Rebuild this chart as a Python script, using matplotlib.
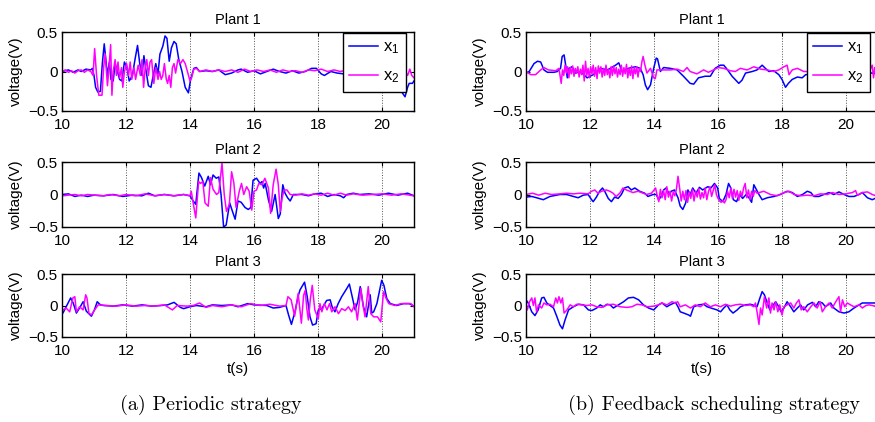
import matplotlib
matplotlib.use('Agg')
import matplotlib.pyplot as plt

plt.rcParams['font.family'] = ['Liberation Sans', 'DejaVu Sans']
plt.rcParams['mathtext.fontset'] = 'custom'
plt.rcParams['mathtext.rm'] = 'Liberation Sans'
plt.rcParams['mathtext.it'] = 'Liberation Sans'
plt.rcParams['mathtext.default'] = 'regular'

# ---- data: (time s, voltage V) ----
# (a) periodic strategy
per1_x1 = [(10.0, 0.0), (10.2, 0.02), (10.35, -0.01), (10.5, 0.02), (10.6, 0.0), (10.75, 0.03), (10.9, 0.02),
           (10.95, 0.04), (11.0, -0.05), (11.05, -0.2), (11.12, -0.26), (11.2, -0.25), (11.26, 0.1), (11.32, 0.35),
           (11.37, 0.15), (11.42, -0.05), (11.48, 0.12), (11.53, -0.1), (11.6, -0.12), (11.66, 0.1), (11.72, 0.02),
           (11.8, -0.1), (11.87, -0.12), (11.95, 0.12), (12.03, 0.05), (12.1, -0.12), (12.2, -0.05), (12.28, 0.15),
           (12.36, 0.33), (12.43, 0.1), (12.5, -0.05), (12.56, 0.2), (12.63, 0.0), (12.7, -0.18), (12.78, -0.2),
           (12.85, -0.05), (12.93, 0.1), (13.0, -0.03), (13.06, 0.22), (13.15, 0.32), (13.22, 0.45), (13.28, 0.42),
           (13.35, 0.13), (13.42, 0.3), (13.5, 0.38), (13.57, 0.35), (13.65, 0.15), (13.75, 0.0), (13.85, -0.2),
           (13.95, -0.27), (14.02, -0.1), (14.12, 0.04), (14.2, 0.05), (14.3, 0.0), (14.5, 0.01), (14.7, 0.0),
           (14.9, 0.02), (15.1, -0.04), (15.3, -0.02), (15.5, 0.02), (15.6, 0.03), (15.8, -0.01), (16.0, 0.01),
           (16.2, -0.03), (16.4, 0.0), (16.6, 0.03), (16.8, 0.0), (17.0, -0.02), (17.2, 0.01), (17.4, -0.02),
           (17.6, 0.0), (17.8, 0.04), (17.95, 0.04), (18.1, -0.03), (18.2, -0.05), (18.4, 0.0), (18.6, -0.02),
           (18.8, -0.03), (19.0, -0.02), (19.3, 0.0), (19.6, 0.01), (19.9, -0.02), (20.2, -0.05), (20.45, -0.12),
           (20.6, -0.25), (20.72, -0.32), (20.8, -0.2), (20.85, -0.15), (20.95, -0.15), (21.0, -0.12)]
per1_x2 = [(10.0, 0.0), (10.1, 0.02), (10.2, -0.01), (10.3, 0.01), (10.4, -0.02), (10.5, 0.01), (10.6, 0.02),
           (10.7, -0.01), (10.8, 0.02), (10.9, 0.0), (10.97, -0.05), (11.02, 0.29), (11.08, -0.05), (11.15, -0.3),
           (11.25, -0.3), (11.3, 0.05), (11.35, 0.22), (11.42, -0.18), (11.47, 0.05), (11.52, 0.34), (11.56, -0.3),
           (11.6, 0.0), (11.66, 0.15), (11.7, -0.05), (11.75, 0.12), (11.8, -0.08), (11.86, 0.05), (11.9, -0.2),
           (11.95, 0.0), (12.02, 0.1), (12.08, -0.05), (12.13, 0.12), (12.18, -0.1), (12.25, 0.05), (12.3, -0.1),
           (12.38, 0.08), (12.45, -0.05), (12.5, 0.15), (12.55, -0.2), (12.6, 0.05), (12.65, 0.15), (12.7, -0.05),
           (12.75, 0.12), (12.8, 0.15), (12.87, -0.15), (12.93, 0.05), (13.0, -0.1), (13.05, 0.0), (13.1, -0.1),
           (13.15, -0.05), (13.2, 0.1), (13.26, -0.1), (13.3, -0.15), (13.35, -0.05), (13.4, -0.2), (13.45, 0.05),
           (13.5, 0.1), (13.55, -0.02), (13.62, 0.15), (13.7, 0.1), (13.78, 0.15), (13.85, 0.1), (13.92, 0.0),
           (14.0, -0.12), (14.05, -0.08), (14.12, 0.03), (14.2, 0.04), (14.3, 0.0), (14.5, 0.02), (14.7, 0.0),
           (14.9, 0.02), (15.1, 0.0), (15.3, 0.02), (15.5, -0.01), (15.7, 0.03), (15.9, 0.0), (16.1, 0.02),
           (16.3, 0.0), (16.5, 0.02), (16.7, -0.01), (16.9, 0.02), (17.1, 0.0), (17.3, 0.01), (17.5, -0.01),
           (17.7, 0.02), (17.9, 0.01), (18.1, 0.03), (18.3, 0.0), (18.5, 0.02), (18.7, 0.0), (18.9, 0.02),
           (19.2, 0.0), (19.5, 0.01), (19.8, 0.0), (20.1, 0.01), (20.4, 0.0), (20.7, 0.02), (20.8, -0.05),
           (20.87, 0.03), (20.93, -0.05), (21.0, -0.08)]
per2_x1 = [(10.0, 0.0), (10.2, 0.01), (10.4, -0.03), (10.6, -0.01), (10.8, -0.03), (11.0, -0.01), (11.3, -0.02),
           (11.6, 0.0), (11.9, -0.03), (12.2, -0.01), (12.5, -0.02), (12.7, 0.02), (12.9, -0.02), (13.2, 0.0),
           (13.5, -0.02), (13.8, 0.0), (14.0, -0.02), (14.1, -0.1), (14.18, -0.15), (14.28, 0.33), (14.36, 0.26),
           (14.46, 0.13), (14.57, 0.28), (14.64, 0.15), (14.72, 0.3), (14.82, 0.25), (14.9, 0.27), (14.97, 0.0),
           (15.05, -0.5), (15.13, -0.47), (15.24, -0.13), (15.32, -0.25), (15.41, -0.38), (15.5, -0.1),
           (15.6, -0.12), (15.72, -0.2), (15.82, -0.23), (15.9, -0.2), (15.97, 0.22), (16.08, 0.25), (16.19, 0.17),
           (16.25, 0.2), (16.3, 0.1), (16.35, 0.17), (16.45, -0.08), (16.55, -0.26), (16.66, 0.0), (16.76, -0.37),
           (16.82, -0.3), (16.9, 0.15), (16.97, 0.02), (17.05, -0.05), (17.13, -0.1), (17.23, 0.0), (17.5, 0.0),
           (17.7, -0.02), (17.9, 0.01), (18.1, 0.02), (18.3, -0.03), (18.5, 0.0), (18.7, -0.02), (18.8, -0.05),
           (18.9, 0.0), (19.1, 0.02), (19.3, 0.0), (19.6, 0.01), (19.9, -0.01), (20.2, 0.02), (20.5, -0.01),
           (20.8, 0.02), (21.0, -0.02)]
per2_x2 = [(10.0, -0.02), (10.2, -0.01), (10.4, 0.0), (10.6, -0.02), (10.8, 0.0), (11.0, -0.01), (11.3, -0.02),
           (11.5, 0.0), (11.8, -0.02), (12.0, 0.0), (12.3, -0.02), (12.6, 0.01), (12.9, -0.02), (13.2, 0.0),
           (13.5, -0.02), (13.8, 0.0), (14.0, -0.02), (14.04, 0.05), (14.1, -0.13), (14.18, -0.36), (14.27, 0.2),
           (14.33, 0.17), (14.4, 0.2), (14.47, -0.13), (14.57, -0.18), (14.64, 0.26), (14.72, 0.08), (14.83, 0.0),
           (14.9, 0.03), (15.0, 0.48), (15.07, 0.0), (15.14, -0.26), (15.23, -0.15), (15.3, 0.35), (15.37, 0.18),
           (15.44, -0.2), (15.54, 0.05), (15.61, 0.17), (15.68, 0.0), (15.77, 0.12), (15.85, 0.05), (15.93, -0.24),
           (16.0, 0.05), (16.08, 0.07), (16.15, 0.17), (16.25, 0.15), (16.34, 0.25), (16.45, 0.1), (16.52, -0.29),
           (16.6, 0.15), (16.69, 0.39), (16.76, 0.15), (16.82, -0.26), (16.88, -0.05), (16.94, 0.07), (17.03, 0.07),
           (17.13, 0.0), (17.3, -0.01), (17.5, 0.01), (17.7, -0.01), (17.9, 0.01), (18.1, -0.01), (18.3, 0.02),
           (18.5, -0.01), (18.7, 0.02), (18.9, -0.01), (19.1, 0.01), (19.4, -0.01), (19.7, 0.0), (20.0, 0.01),
           (20.3, -0.01), (20.6, 0.01), (21.0, -0.02)]
per3_x1 = [(10.0, -0.1), (10.03, -0.12), (10.15, 0.0), (10.27, 0.12), (10.35, 0.04), (10.45, -0.12), (10.55, -0.04),
           (10.66, 0.06), (10.76, -0.09), (10.92, -0.17), (11.02, -0.06), (11.1, 0.06), (11.2, 0.01), (11.3, 0.0),
           (11.6, -0.01), (11.9, 0.01), (12.2, -0.01), (12.5, 0.01), (12.8, -0.01), (13.1, 0.0), (13.3, 0.01),
           (13.5, 0.05), (13.7, -0.03), (13.8, -0.05), (14.0, -0.02), (14.2, 0.0), (14.5, -0.02), (14.7, 0.01),
           (15.0, 0.0), (15.3, 0.01), (15.5, -0.02), (15.8, 0.03), (16.0, 0.01), (16.4, 0.0), (16.6, -0.04),
           (16.8, -0.03), (17.0, 0.0), (17.08, -0.15), (17.17, -0.3), (17.28, -0.1), (17.38, 0.15), (17.44, 0.25),
           (17.58, 0.37), (17.66, 0.15), (17.75, -0.18), (17.83, -0.31), (17.94, -0.29), (18.01, -0.07),
           (18.12, -0.05), (18.27, 0.08), (18.38, 0.09), (18.44, -0.02), (18.53, -0.1), (18.63, 0.03), (18.74, 0.14),
           (18.9, 0.27), (18.98, 0.34), (19.06, 0.16), (19.16, -0.07), (19.24, 0.06), (19.32, 0.3), (19.42, -0.02),
           (19.52, -0.18), (19.63, 0.17), (19.68, -0.12), (19.74, -0.1), (19.84, 0.03), (19.99, 0.4), (20.06, 0.32),
           (20.15, 0.11), (20.26, 0.03), (20.46, 0.0), (20.67, 0.03), (20.85, 0.03), (21.0, -0.01)]
per3_x2 = [(10.0, -0.07), (10.03, -0.07), (10.13, -0.04), (10.24, -0.1), (10.34, 0.12), (10.4, 0.14), (10.45, -0.1),
           (10.55, -0.02), (10.66, -0.07), (10.74, 0.17), (10.78, 0.12), (10.84, -0.12), (10.92, -0.15),
           (11.02, -0.07), (11.13, 0.01), (11.4, 0.0), (11.7, -0.01), (12.0, 0.01), (12.3, -0.01), (12.6, 0.0),
           (12.9, -0.01), (13.2, 0.01), (13.45, -0.07), (13.6, 0.0), (13.9, -0.01), (14.1, 0.0), (14.3, 0.04),
           (14.5, -0.03), (14.7, 0.0), (15.0, -0.02), (15.3, 0.01), (15.6, -0.02), (15.9, 0.03), (16.2, 0.0),
           (16.5, 0.02), (16.8, -0.01), (17.0, 0.0), (17.06, 0.14), (17.16, 0.09), (17.27, -0.17), (17.38, 0.19),
           (17.48, -0.28), (17.55, 0.16), (17.6, 0.24), (17.65, -0.05), (17.7, -0.23), (17.76, 0.1), (17.82, 0.32),
           (17.9, -0.07), (18.01, -0.21), (18.06, 0.03), (18.12, -0.1), (18.2, 0.03), (18.28, -0.07), (18.36, 0.03),
           (18.43, -0.1), (18.53, -0.02), (18.64, -0.13), (18.74, -0.05), (18.85, -0.08), (18.95, -0.02),
           (19.05, -0.1), (19.16, 0.03), (19.23, -0.23), (19.34, 0.27), (19.4, 0.03), (19.47, -0.18), (19.57, 0.3),
           (19.65, -0.13), (19.74, -0.18), (19.86, -0.18), (19.96, -0.26), (20.05, 0.22), (20.13, 0.11),
           (20.21, 0.03), (20.4, 0.0), (20.6, 0.03), (20.9, 0.03), (21.0, -0.02)]

# (b) feedback scheduling strategy
fb1_x1 = [(10.0, -0.02), (10.1, 0.0), (10.25, 0.1), (10.36, 0.13), (10.46, 0.12), (10.56, 0.02), (10.67, -0.01),
          (10.87, -0.01), (10.98, 0.0), (11.08, 0.04), (11.13, 0.19), (11.19, 0.21), (11.24, 0.08), (11.29, -0.08),
          (11.34, 0.04), (11.44, 0.06), (11.55, -0.02), (11.7, 0.0), (11.91, -0.08), (12.1, -0.04), (12.33, 0.04),
          (12.55, 0.02), (12.8, 0.08), (12.9, 0.11), (13.0, 0.0), (13.2, 0.04), (13.42, 0.06), (13.57, 0.04),
          (13.66, -0.04), (13.73, -0.17), (13.8, -0.23), (13.89, -0.17), (13.99, 0.04), (14.07, 0.17), (14.11, 0.16),
          (14.2, 0.0), (14.3, 0.05), (14.51, 0.04), (14.72, 0.02), (14.92, -0.06), (15.13, -0.15), (15.24, -0.16),
          (15.39, -0.08), (15.6, -0.06), (15.76, -0.06), (15.91, 0.04), (16.07, 0.08), (16.18, 0.08), (16.3, 0.02),
          (16.44, -0.06), (16.65, -0.15), (16.75, -0.11), (16.86, -0.02), (17.07, 0.0), (17.22, 0.02),
          (17.38, 0.08), (17.48, 0.04), (17.59, 0.0), (17.74, 0.01), (17.9, -0.04), (18.0, -0.1), (18.11, -0.2),
          (18.2, -0.15), (18.32, -0.1), (18.48, -0.07), (18.63, -0.08), (18.74, -0.04), (19.0, -0.03),
          (19.5, 0.0), (20.0, -0.02), (20.5, 0.01), (20.8, -0.02), (21.0, -0.03)]
fb1_x2 = [(10.0, 0.0), (10.15, -0.04), (10.3, -0.04), (10.46, 0.02), (10.56, 0.05), (10.7, 0.02), (10.93, 0.01),
          (11.03, 0.04), (11.1, -0.15), (11.14, 0.02), (11.18, -0.05), (11.22, 0.08), (11.26, -0.02), (11.3, 0.06),
          (11.34, -0.08), (11.38, 0.05), (11.42, -0.03), (11.46, 0.07), (11.5, -0.06), (11.54, 0.04),
          (11.58, -0.02), (11.62, 0.06), (11.66, -0.07), (11.7, 0.03), (11.74, -0.04), (11.78, 0.08),
          (11.82, -0.12), (11.86, 0.13), (11.9, -0.05), (11.94, 0.04), (11.98, -0.08), (12.02, 0.06),
          (12.06, -0.03), (12.1, 0.08), (12.14, -0.06), (12.18, 0.05), (12.22, -0.09), (12.26, 0.07),
          (12.3, -0.02), (12.34, 0.06), (12.38, -0.07), (12.42, 0.04), (12.46, -0.05), (12.5, 0.08),
          (12.54, -0.04), (12.58, 0.03), (12.62, -0.08), (12.66, 0.06), (12.7, -0.05), (12.74, 0.07),
          (12.78, -0.03), (12.82, 0.05), (12.86, -0.07), (12.9, 0.03), (12.94, -0.04), (12.98, 0.08),
          (13.02, -0.06), (13.06, 0.05), (13.1, -0.03), (13.14, 0.09), (13.18, -0.08), (13.22, 0.04),
          (13.26, -0.05), (13.3, 0.07), (13.34, -0.09), (13.38, 0.05), (13.42, -0.03), (13.46, 0.06),
          (13.5, -0.07), (13.54, 0.04), (13.58, 0.0), (13.62, 0.12), (13.66, 0.19), (13.71, 0.09), (13.78, -0.02),
          (13.89, 0.04), (13.99, -0.08), (14.04, -0.09), (14.09, 0.02), (14.3, 0.02), (14.51, 0.02), (14.72, 0.03),
          (14.92, 0.0), (15.03, 0.05), (15.13, 0.0), (15.34, -0.03), (15.55, 0.02), (15.7, -0.01), (15.86, 0.02),
          (16.01, 0.05), (16.18, 0.04), (16.38, 0.01), (16.54, 0.0), (16.7, 0.04), (16.91, 0.02), (17.12, 0.06),
          (17.33, 0.03), (17.54, 0.02), (17.74, 0.0), (17.9, 0.02), (18.06, 0.06), (18.16, 0.08), (18.22, -0.04),
          (18.32, 0.02), (18.48, 0.04), (18.68, 0.0), (18.84, 0.0), (19.2, 0.02), (19.6, 0.0), (20.0, 0.02),
          (20.4, 0.0), (20.75, 0.02), (20.82, 0.08), (20.86, -0.08), (20.9, 0.05), (21.0, -0.02)]
fb2_x1 = [(10.0, -0.04), (10.18, -0.03), (10.33, -0.05), (10.54, -0.08), (10.75, -0.03), (11.06, 0.0), (11.27, 0.0),
          (11.48, -0.03), (11.63, -0.05), (11.79, -0.01), (11.94, 0.0), (12.05, -0.08), (12.1, -0.11),
          (12.2, -0.04), (12.3, 0.05), (12.39, 0.1), (12.46, 0.05), (12.57, -0.06), (12.67, -0.11), (12.77, -0.04),
          (12.88, -0.06), (12.98, 0.0), (13.08, 0.1), (13.19, 0.12), (13.29, 0.07), (13.4, 0.1), (13.55, 0.05),
          (13.71, 0.02), (13.81, -0.03), (13.97, 0.0), (14.07, 0.0), (14.15, -0.08), (14.22, -0.03), (14.3, 0.07),
          (14.38, 0.1), (14.48, 0.0), (14.54, 0.05), (14.64, 0.07), (14.75, -0.05), (14.82, -0.18), (14.9, -0.23),
          (14.99, -0.13), (15.06, 0.07), (15.13, 0.0), (15.21, 0.1), (15.31, 0.02), (15.42, 0.11), (15.52, 0.07),
          (15.68, 0.12), (15.78, 0.1), (15.89, 0.17), (15.99, 0.1), (16.04, -0.06), (16.15, -0.11), (16.25, 0.0),
          (16.33, 0.17), (16.4, 0.1), (16.48, -0.08), (16.58, -0.11), (16.67, 0.0), (16.77, -0.06), (16.88, 0.0),
          (16.98, -0.06), (17.05, -0.12), (17.12, 0.15), (17.28, 0.0), (17.38, -0.08), (17.54, -0.05),
          (17.75, -0.03), (17.95, 0.0), (18.16, 0.05), (18.32, 0.03), (18.48, -0.03), (18.64, 0.0), (18.79, 0.05),
          (18.9, 0.03), (19.0, -0.03), (19.15, -0.03), (19.31, 0.0), (19.47, 0.03), (19.62, 0.0), (19.78, 0.04),
          (19.94, 0.0), (20.09, -0.03), (20.25, -0.03), (20.41, 0.0), (20.51, 0.03), (20.67, -0.05),
          (20.82, -0.08), (21.0, -0.04)]
fb2_x2 = [(10.0, 0.0), (10.2, 0.02), (10.4, -0.01), (10.6, 0.02), (10.8, 0.0), (11.06, 0.01), (11.27, 0.02),
          (11.48, 0.01), (11.69, 0.02), (11.94, 0.01), (12.05, 0.05), (12.15, 0.07), (12.25, 0.02), (12.36, 0.05),
          (12.51, 0.07), (12.62, 0.05), (12.72, 0.02), (12.82, -0.03), (12.93, 0.02), (13.03, 0.1), (13.14, 0.07),
          (13.24, 0.05), (13.34, 0.03), (13.5, 0.05), (13.66, 0.02), (13.76, 0.0), (13.92, 0.02), (14.05, 0.1),
          (14.1, -0.02), (14.15, -0.11), (14.2, 0.08), (14.25, -0.05), (14.3, 0.06), (14.35, -0.08), (14.4, 0.12),
          (14.45, -0.04), (14.5, 0.05), (14.55, -0.1), (14.6, 0.04), (14.65, -0.02), (14.7, 0.08), (14.75, 0.28),
          (14.8, 0.1), (14.85, -0.1), (14.9, 0.05), (14.95, -0.08), (15.0, 0.06), (15.05, -0.12), (15.1, 0.04),
          (15.15, -0.06), (15.2, 0.08), (15.25, -0.1), (15.3, 0.05), (15.35, -0.04), (15.4, 0.09), (15.45, -0.07),
          (15.5, 0.03), (15.55, -0.05), (15.6, 0.1), (15.65, -0.08), (15.7, 0.04), (15.75, 0.12), (15.8, -0.03),
          (15.85, 0.06), (15.9, 0.15), (15.95, 0.0), (16.0, -0.06), (16.05, -0.1), (16.1, -0.12), (16.15, -0.09),
          (16.2, -0.13), (16.25, -0.08), (16.3, 0.05), (16.35, -0.05), (16.4, 0.1), (16.45, -0.06), (16.5, 0.08),
          (16.55, -0.04), (16.6, 0.06), (16.65, -0.09), (16.7, 0.05), (16.75, -0.03), (16.8, 0.1), (16.85, 0.17),
          (16.9, -0.05), (16.95, 0.07), (17.0, -0.08), (17.05, 0.05), (17.1, -0.03), (17.15, 0.06), (17.22, 0.02),
          (17.43, 0.05), (17.64, 0.0), (17.85, -0.02), (18.06, 0.03), (18.22, 0.05), (18.38, 0.0), (18.58, -0.02),
          (18.79, -0.01), (19.0, -0.02), (19.2, 0.01), (19.42, 0.0), (19.57, 0.03), (19.78, 0.0), (19.99, 0.01),
          (20.2, 0.03), (20.3, 0.06), (20.35, -0.01), (20.51, 0.03), (20.67, 0.04), (20.82, 0.0), (21.0, -0.03)]
fb3_x1 = [(10.0, 0.09), (10.07, 0.04), (10.18, -0.1), (10.28, -0.16), (10.38, -0.07), (10.49, 0.12), (10.56, 0.13),
          (10.65, 0.04), (10.75, 0.0), (10.86, -0.04), (10.96, -0.17), (11.06, -0.31), (11.14, -0.37),
          (11.22, -0.23), (11.33, -0.07), (11.48, -0.02), (11.64, 0.02), (11.8, 0.01), (11.95, -0.07),
          (12.06, -0.08), (12.21, -0.04), (12.32, 0.01), (12.42, -0.02), (12.53, 0.02), (12.63, 0.01),
          (12.73, -0.04), (12.89, 0.01), (13.05, 0.06), (13.2, 0.12), (13.36, 0.13), (13.52, 0.09), (13.67, 0.01),
          (13.83, -0.04), (13.99, -0.07), (14.14, 0.01), (14.25, 0.04), (14.4, -0.02), (14.5, 0.01), (14.67, 0.05),
          (14.75, -0.02), (14.82, -0.1), (14.93, -0.12), (15.08, -0.15), (15.14, -0.17), (15.24, -0.02),
          (15.4, 0.01), (15.55, 0.02), (15.66, -0.02), (15.78, -0.04), (15.97, -0.07), (16.08, -0.1), (16.18, -0.04),
          (16.28, 0.01), (16.37, -0.07), (16.47, -0.12), (16.6, -0.07), (16.7, -0.02), (16.86, 0.01), (17.01, 0.02),
          (17.14, 0.0), (17.22, -0.02), (17.31, 0.12), (17.38, 0.22), (17.45, 0.17), (17.54, 0.04), (17.62, -0.07),
          (17.69, -0.02), (17.8, 0.06), (17.9, -0.02), (17.97, -0.1), (18.06, -0.04), (18.16, 0.06), (18.27, -0.02),
          (18.37, -0.1), (18.48, -0.04), (18.58, 0.01), (18.68, -0.07), (18.8, 0.01), (18.95, 0.05), (19.05, -0.02),
          (19.15, 0.06), (19.26, 0.04), (19.36, -0.02), (19.52, 0.04), (19.62, -0.04), (19.78, -0.1), (19.94, -0.12),
          (20.09, -0.1), (20.25, -0.04), (20.41, 0.01), (20.51, 0.04), (20.67, 0.04), (21.0, 0.04)]
fb3_x2 = [(10.0, 0.04), (10.04, -0.07), (10.11, 0.06), (10.18, 0.12), (10.23, 0.0), (10.28, 0.12), (10.33, -0.1),
          (10.39, 0.01), (10.49, -0.04), (10.56, 0.04), (10.65, 0.01), (10.75, 0.02), (10.86, -0.02), (10.93, 0.12),
          (10.98, 0.04), (11.03, 0.14), (11.09, 0.04), (11.14, 0.12), (11.19, -0.12), (11.28, -0.07), (11.38, 0.01),
          (11.48, -0.02), (11.59, 0.02), (11.75, 0.01), (11.9, 0.0), (12.06, 0.01), (12.21, -0.02), (12.37, -0.03),
          (12.53, 0.01), (12.73, 0.02), (12.94, -0.02), (13.15, -0.03), (13.31, -0.02), (13.47, 0.02), (13.62, 0.01),
          (13.78, -0.02), (13.99, -0.01), (14.14, 0.01), (14.25, 0.04), (14.4, 0.01), (14.56, 0.06), (14.67, 0.04),
          (14.74, 0.06), (14.82, -0.02), (14.98, 0.01), (15.14, -0.04), (15.29, 0.01), (15.45, -0.02), (15.6, 0.04),
          (15.76, -0.02), (15.92, 0.01), (16.08, -0.02), (16.23, 0.02), (16.39, -0.01), (16.54, 0.01), (16.7, 0.02),
          (16.86, 0.0), (17.01, 0.01), (17.12, -0.02), (17.17, 0.04), (17.22, -0.1), (17.28, -0.3), (17.33, -0.04),
          (17.38, -0.15), (17.45, 0.14), (17.52, -0.04), (17.59, 0.12), (17.64, -0.12), (17.69, 0.04),
          (17.75, -0.07), (17.8, 0.06), (17.87, -0.1), (17.93, 0.01), (18.0, -0.15), (18.06, -0.02), (18.16, 0.01),
          (18.27, 0.04), (18.37, -0.04), (18.45, 0.04), (18.53, 0.09), (18.6, -0.07), (18.68, -0.02), (18.79, -0.1),
          (18.9, -0.02), (19.0, 0.04), (19.1, -0.04), (19.19, 0.06), (19.26, -0.1), (19.36, -0.02), (19.47, 0.04),
          (19.57, -0.04), (19.68, 0.06), (19.78, 0.14), (19.83, -0.1), (19.89, 0.09), (19.96, -0.02), (20.04, 0.04),
          (20.14, 0.01), (20.25, -0.02), (20.41, 0.01), (20.51, -0.04), (20.62, 0.0), (20.72, 0.01), (21.0, -0.02)]

panels = [[per1_x1, per1_x2], [per2_x1, per2_x2], [per3_x1, per3_x2],
          [fb1_x1, fb1_x2], [fb2_x1, fb2_x2], [fb3_x1, fb3_x2]]
titles = ['Plant 1', 'Plant 2', 'Plant 3']
captions = ['(a) Periodic strategy', '(b) Feedback scheduling strategy']
series_names = ['x$_1$', 'x$_2$']
colors = ['#0000ff', '#ff00ff']

W, H = 875, 422
fig = plt.figure(figsize=(W / 100, H / 100), dpi=100)
col_left = [62, 526]
rows = [(32, 111), (162, 227), (274, 337)]

for c in range(2):
    for r in range(3):
        top, bot = rows[r]
        ax = fig.add_axes([col_left[c] / W, 1 - bot / H, 352 / W, (bot - top) / H])
        for k, s in enumerate(panels[c * 3 + r]):
            ts = [p[0] for p in s]
            vs = [p[1] for p in s]
            ax.plot(ts, vs, color=colors[k], lw=1.1, label=series_names[k])
        ax.set_xlim(10, 21)
        ax.set_ylim(-0.5, 0.5)
        ax.set_xticks([10, 12, 14, 16, 18, 20])
        ax.set_yticks([-0.5, 0, 0.5])
        ax.set_yticklabels(['\u22120.5', '0', '0.5'])
        ax.grid(True, axis='x', linestyle=':', color='#555555', lw=0.7)
        ax.tick_params(direction='in', top=True, right=True, length=3, labelsize=11)
        ax.tick_params(axis='x', pad=5)
        ax.tick_params(axis='y', pad=3)
        for sp in ax.spines.values():
            sp.set_linewidth(1.0)
        ax.set_title(titles[r], fontsize=10.5, pad=6)
        ax.set_ylabel('voltage(V)', fontsize=11)
        ax.yaxis.set_label_coords(-0.11, 0.5)
        if r == 2:
            ax.set_xlabel('t(s)', fontsize=11)
            ax.xaxis.set_label_coords(0.5, -0.39)
        if r == 0:
            leg = ax.legend(loc='upper right', bbox_to_anchor=(0.977, 0.99), fontsize=12,
                            handlelength=1.7, handletextpad=0.3, borderpad=0.4, labelspacing=0.75,
                            fancybox=False, framealpha=1, edgecolor='black', borderaxespad=0)
            leg.get_frame().set_linewidth(1.0)

fig.text(211 / W, 1 - 405 / H, captions[0], family='cmr10', fontsize=14.5, ha='center', va='center')
fig.text(714 / W, 1 - 405 / H, captions[1], family='cmr10', fontsize=14.5, ha='center', va='center')

fig.savefig('out.png', dpi=100, facecolor='white')
